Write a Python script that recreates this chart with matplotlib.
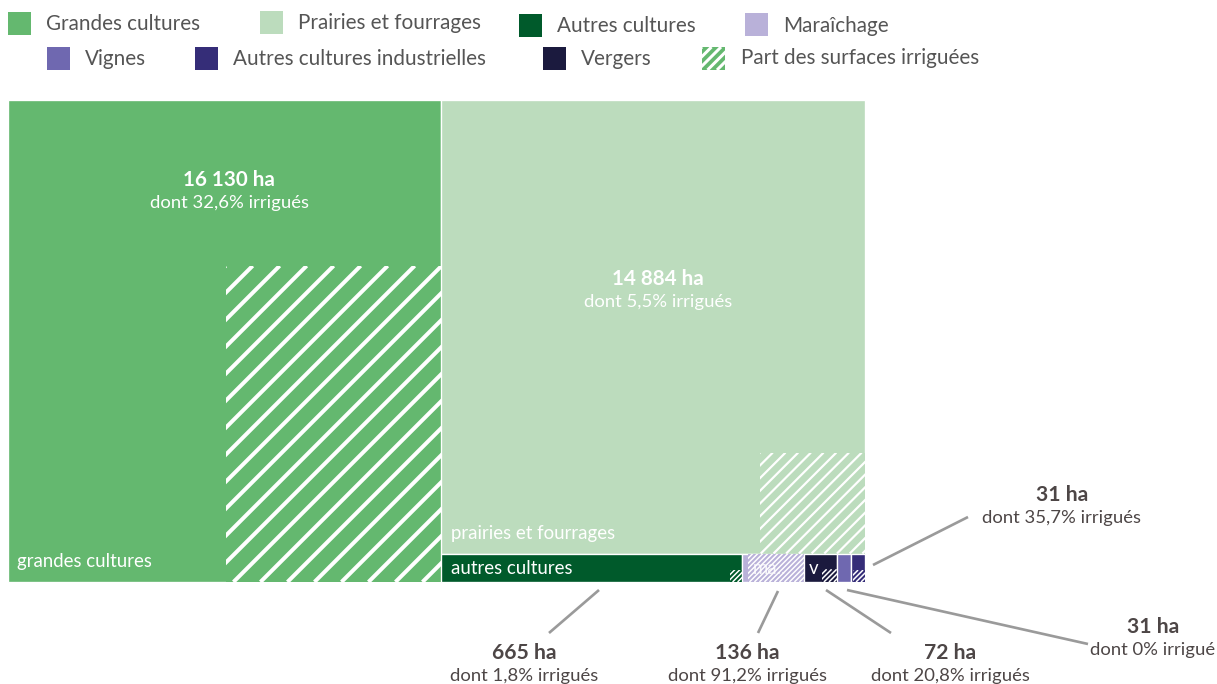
import numpy as np
import matplotlib.pyplot as plt
from matplotlib.patches import Rectangle

plt.rcParams['font.family'] = ['Lato', 'DejaVu Sans']

# surfaces (ha) and share irrigated (%)
categories = ['grandes cultures', 'prairies et fourrages', 'autres cultures',
              'maraîchage', 'vergers', 'vignes', 'autres cultures industrielles']
surfaces = [16130, 14884, 665, 136, 72, 31, 31]
irrig_pct = [32.6, 5.5, 1.8, 91.2, 20.8, 0.0, 35.7]
colors = ['#64b86f', '#bcdcbd', '#005a2b', '#b9b1d9', '#1b1a3e', '#6f68b0', '#352d78']

legend_labels = ['Grandes cultures', 'Prairies et fourrages', 'Autres cultures', 'Maraîchage',
                 'Vignes', 'Autres cultures industrielles', 'Vergers', 'Part des surfaces irriguées']
legend_colors = ['#64b86f', '#bcdcbd', '#005a2b', '#b9b1d9', '#6f68b0', '#352d78', '#1b1a3e', None]

DPI = 160
PT = 72 / DPI  # points per pixel
fig = plt.figure(figsize=(1217 / DPI, 684 / DPI), dpi=DPI)
ax = fig.add_axes([0, 0, 1, 1])
ax.set_xlim(0, 1217)
ax.set_ylim(684, 0)
ax.axis('off')

# treemap layout (pixel space, y down)
X0, Y0, W, H = 8, 100, 857, 482
tot = sum(surfaces)
rects = []
w0 = W * surfaces[0] / tot
rects.append((X0, Y0, w0, H))
rest = tot - surfaces[0]
rw = W - w0
h1 = H * surfaces[1] / rest
rects.append((X0 + w0, Y0, rw, h1))
small = surfaces[2:]
x = X0 + w0
for s in small:
    ww = rw * s / sum(small)
    rects.append((x, Y0 + h1, ww, H - h1))
    x += ww

hatch_aspect = [0.68, 1.04, 1.0, 1.0, 1.2, 1.0, 1.0]
hatch_gap = [27, 12.7, 5.0, 5.0, 5.0, 5.0, 5.0]    # px between stripes
hatch_w = [4.0, 2.2, 1.5, 1.5, 1.5, 1.5, 1.5]      # stripe thickness px


def stripes(x, y, w, h, color, gap, lw):
    clip = Rectangle((x, y), w, h, facecolor=color, linewidth=0)
    ax.add_patch(clip)
    for c in np.arange(-h, w + gap, gap):
        ln, = ax.plot([x + c, x + c + h], [y + h, y], color='white', lw=lw * PT,
                      solid_capstyle='butt')
        ln.set_clip_path(clip)


for i, (rx, ry, rwid, rh) in enumerate(rects):
    ax.add_patch(Rectangle((rx, ry), rwid, rh, facecolor=colors[i], edgecolor='white', linewidth=0.6))
    f = irrig_pct[i] / 100
    if f <= 0:
        continue
    a = f * rwid * rh
    hw = np.sqrt(a * hatch_aspect[i])
    hh = a / hw
    if hh > rh:
        hh = rh
        hw = a / rh
    if hw > rwid:
        hw = rwid
        hh = a / rwid
    stripes(rx + rwid - hw, ry + rh - hh, hw, hh, colors[i], hatch_gap[i], hatch_w[i])


def fmt(v):
    return f'{v:,}'.replace(',', ' ') + ' ha'


def pct(v):
    return f'{v:.1f}'.replace('.', ',') if v % 1 else f'{v:.0f}'


# labels inside the two big blocks
big_label_y = [180, 279]
for i in range(2):
    rx, ry, rwid, rh = rects[i]
    cx = rx + rwid / 2 + 5
    ax.text(cx, big_label_y[i], fmt(surfaces[i]), color='white', fontsize=9.3, fontweight='bold',
            ha='center', va='center')
    ax.text(cx, big_label_y[i] + 23, f'dont {pct(irrig_pct[i])}% irrigués', color='white',
            fontsize=8.3, ha='center', va='center')

# corner names
ax.text(rects[0][0] + 9, 562, 'grandes cultures', color='white', fontsize=8.4, va='center')
ax.text(rects[1][0] + 10, 534, 'prairies et fourrages', color='white', fontsize=8.4, va='center')
ax.text(rects[2][0] + 10, 569, 'autres cultures', color='white', fontsize=8.4, va='center')
ax.text(rects[3][0] + 10, 569, 'ma..', color='white', alpha=0.85, fontsize=8.4, va='center')
ax.text(rects[4][0] + 5, 569, 'v', color='white', fontsize=8.4, va='center')

# annotations for small categories
ann_idx = [2, 3, 4, 5, 6]
ann_line = [((599, 590), (549, 633)), ((778, 591), (758, 633)), ((826, 590), (891, 633)),
            ((847, 590), (1088, 644)), ((873, 565), (968, 517))]
ann_text = [(524, 653), (747, 653), (950, 653), (1153, 627), (1062, 495)]
for k, i in enumerate(ann_idx):
    (x1, y1), (x2, y2) = ann_line[k]
    ax.plot([x1, x2], [y1, y2], color='#9a9a9a', lw=1.2, solid_capstyle='butt')
    tx, ty = ann_text[k]
    ax.text(tx, ty, fmt(surfaces[i]), color='#4d4646', fontsize=9.5, fontweight='bold',
            ha='center', va='center')
    sub = 'irrigué' if irrig_pct[i] == 0 else 'irrigués'
    ax.text(tx, ty + 23, f'dont {pct(irrig_pct[i])}% {sub}', color='#4d4646', fontsize=8.3,
            ha='center', va='center')

# legend
leg_sq = [(8, 12), (260, 11), (519, 14), (745, 13), (47, 47), (195, 47), (543, 47), (702, 47)]
leg_tx = [(46, 24), (298, 23), (557, 26), (783, 26), (85, 59), (233, 59), (581, 59), (741, 58)]
for j, lab in enumerate(legend_labels):
    sx, sy = leg_sq[j]
    if legend_colors[j] is None:
        stripes(sx, sy, 23, 23, '#64b86f', 9.5, 3.0)
    else:
        ax.add_patch(Rectangle((sx, sy), 23, 23, facecolor=legend_colors[j], linewidth=0))
    ax.text(leg_tx[j][0], leg_tx[j][1], lab, color='#555555', fontsize=9.3, va='center')

fig.savefig('out.png', dpi=DPI)
